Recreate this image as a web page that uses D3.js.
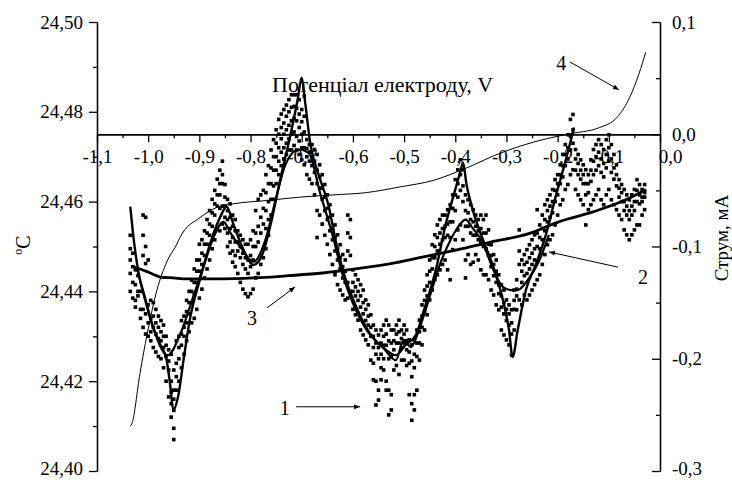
<!DOCTYPE html>
<html lang="uk">
<head>
<meta charset="UTF-8">
<title>Температура і струм</title>
<script src="https://d3js.org/d3.v7.min.js"></script>
<style>
  body { margin: 0; background: #fff; }
  svg { display: block; }
  svg text { font-family: "Liberation Serif", "Times New Roman", "DejaVu Serif", serif; fill: #000; }
  .axis path, .axis line { stroke: #000; stroke-width: 1.3; }
</style>
</head>
<body>
<svg width="732" height="480" font-family="Liberation Serif"></svg>
<script>
// ---- data ----
// ticks
const tempTicks = [24.40, 24.42, 24.44, 24.46, 24.48, 24.50];
const tempMinor = [24.41, 24.43, 24.45, 24.47, 24.49];
const curTicks = [-0.3, -0.2, -0.1, 0.0, 0.1];
const curMinor = [-0.25, -0.15, -0.05, 0.05];
const potTicks = [-1.1, -1.0, -0.9, -0.8, -0.7, -0.6, -0.5, -0.4, -0.3, -0.2, -0.1, 0.0];
const potMinor = [-1.05, -0.95, -0.85, -0.75, -0.65, -0.55, -0.45, -0.35, -0.25, -0.15, -0.05];

// curve 1: measured temperature, one row per potential: [V, T, T, ...]
const tempPoints = [
  [-1.035, 24.4525, 24.4495, 24.4470, 24.4440, 24.4400],
  [-1.030, 24.4485, 24.4455, 24.4420, 24.4385],
  [-1.025, 24.4448, 24.4415, 24.4380, 24.4365],
  [-1.020, 24.4435, 24.4400, 24.4390],
  [-1.015, 24.4400, 24.4360, 24.4340],
  [-1.010, 24.4570, 24.4525, 24.4480, 24.4360, 24.4320],
  [-1.005, 24.4565, 24.4500, 24.4462, 24.4350, 24.4305],
  [-1.000, 24.4470, 24.4370, 24.4330, 24.4300],
  [-0.995, 24.4380, 24.4340, 24.4310, 24.4290],
  [-0.990, 24.4375, 24.4345, 24.4320, 24.4275],
  [-0.985, 24.4360, 24.4330, 24.4305, 24.4265],
  [-0.980, 24.4345, 24.4320, 24.4295, 24.4255],
  [-0.975, 24.4335, 24.4310, 24.4290, 24.4250],
  [-0.970, 24.4325, 24.4300, 24.4275, 24.4230],
  [-0.965, 24.4300, 24.4280, 24.4255, 24.4200],
  [-0.960, 24.4270, 24.4245, 24.4225, 24.4165],
  [-0.955, 24.4260, 24.4200, 24.4175, 24.4150, 24.4120],
  [-0.950, 24.4225, 24.4180, 24.4160, 24.4135, 24.4095, 24.4070],
  [-0.945, 24.4290, 24.4240, 24.4210, 24.4180],
  [-0.940, 24.4300, 24.4275, 24.4250, 24.4200],
  [-0.935, 24.4335, 24.4305, 24.4280, 24.4230],
  [-0.930, 24.4345, 24.4320, 24.4300, 24.4260],
  [-0.925, 24.4380, 24.4355, 24.4330, 24.4290],
  [-0.920, 24.4400, 24.4375, 24.4350, 24.4310],
  [-0.915, 24.4425, 24.4400, 24.4375, 24.4330],
  [-0.910, 24.4450, 24.4420, 24.4395, 24.4340],
  [-0.905, 24.4470, 24.4445, 24.4420, 24.4360],
  [-0.900, 24.4505, 24.4470, 24.4445, 24.4385],
  [-0.895, 24.4515, 24.4485, 24.4460, 24.4405],
  [-0.890, 24.4535, 24.4505, 24.4480, 24.4430],
  [-0.885, 24.4560, 24.4530, 24.4505, 24.4450],
  [-0.880, 24.4580, 24.4550, 24.4525, 24.4470],
  [-0.875, 24.4605, 24.4575, 24.4545, 24.4495],
  [-0.870, 24.4625, 24.4595, 24.4570, 24.4515],
  [-0.865, 24.4650, 24.4615, 24.4590, 24.4540],
  [-0.860, 24.4670, 24.4640, 24.4615, 24.4585, 24.4535],
  [-0.855, 24.4690, 24.4660, 24.4640, 24.4590, 24.4550],
  [-0.850, 24.4638, 24.4610, 24.4590, 24.4565, 24.4540],
  [-0.845, 24.4605, 24.4580, 24.4560, 24.4530, 24.4500],
  [-0.840, 24.4595, 24.4565, 24.4540, 24.4510, 24.4485],
  [-0.835, 24.4570, 24.4545, 24.4520, 24.4490, 24.4465],
  [-0.830, 24.4560, 24.4535, 24.4510, 24.4480, 24.4455],
  [-0.825, 24.4535, 24.4510, 24.4490, 24.4440],
  [-0.820, 24.4525, 24.4500, 24.4475, 24.4420],
  [-0.815, 24.4515, 24.4485, 24.4460, 24.4405],
  [-0.810, 24.4505, 24.4475, 24.4450, 24.4395],
  [-0.805, 24.4505, 24.4470, 24.4440, 24.4388],
  [-0.800, 24.4515, 24.4480, 24.4455, 24.4395],
  [-0.795, 24.4535, 24.4500, 24.4470, 24.4405],
  [-0.790, 24.4580, 24.4530, 24.4500, 24.4430],
  [-0.785, 24.4605, 24.4545, 24.4510, 24.4440],
  [-0.780, 24.4615, 24.4565, 24.4530, 24.4460],
  [-0.775, 24.4625, 24.4585, 24.4550, 24.4475],
  [-0.770, 24.4660, 24.4620, 24.4580, 24.4540, 24.4495],
  [-0.765, 24.4680, 24.4640, 24.4600, 24.4560, 24.4525],
  [-0.760, 24.4715, 24.4675, 24.4640, 24.4605, 24.4570],
  [-0.755, 24.4738, 24.4700, 24.4670, 24.4635, 24.4605],
  [-0.750, 24.4760, 24.4730, 24.4700, 24.4670, 24.4640],
  [-0.745, 24.4783, 24.4750, 24.4720, 24.4690, 24.4660],
  [-0.740, 24.4795, 24.4765, 24.4740, 24.4710, 24.4680],
  [-0.735, 24.4805, 24.4775, 24.4750, 24.4720, 24.4695],
  [-0.730, 24.4815, 24.4790, 24.4760, 24.4730, 24.4705],
  [-0.725, 24.4827, 24.4800, 24.4770, 24.4740, 24.4715],
  [-0.720, 24.4838, 24.4810, 24.4780, 24.4750, 24.4715],
  [-0.715, 24.4838, 24.4812, 24.4785, 24.4755, 24.4725],
  [-0.710, 24.4838, 24.4808, 24.4780, 24.4745, 24.4715],
  [-0.705, 24.4827, 24.4795, 24.4765, 24.4735, 24.4705],
  [-0.700, 24.4805, 24.4778, 24.4750, 24.4720, 24.4693],
  [-0.695, 24.4835, 24.4790, 24.4755, 24.4720, 24.4682],
  [-0.690, 24.4738, 24.4718, 24.4700, 24.4660],
  [-0.685, 24.4727, 24.4710, 24.4690, 24.4650],
  [-0.680, 24.4727, 24.4700, 24.4680, 24.4640],
  [-0.675, 24.4716, 24.4690, 24.4665, 24.4615],
  [-0.670, 24.4705, 24.4670, 24.4640, 24.4580, 24.4520],
  [-0.665, 24.4682, 24.4655, 24.4630, 24.4570],
  [-0.660, 24.4660, 24.4630, 24.4605, 24.4550],
  [-0.655, 24.4638, 24.4610, 24.4580, 24.4525],
  [-0.650, 24.4615, 24.4585, 24.4560, 24.4505],
  [-0.645, 24.4593, 24.4565, 24.4535, 24.4482],
  [-0.640, 24.4570, 24.4540, 24.4515, 24.4460],
  [-0.635, 24.4548, 24.4520, 24.4490, 24.4437],
  [-0.630, 24.4526, 24.4495, 24.4470, 24.4415],
  [-0.625, 24.4504, 24.4475, 24.4450, 24.4403],
  [-0.620, 24.4482, 24.4455, 24.4430, 24.4392],
  [-0.615, 24.4470, 24.4445, 24.4420, 24.4381],
  [-0.610, 24.4570, 24.4530, 24.4490, 24.4420, 24.4385],
  [-0.605, 24.4560, 24.4520, 24.4480, 24.4400],
  [-0.600, 24.4448, 24.4420, 24.4400, 24.4360],
  [-0.595, 24.4437, 24.4410, 24.4390, 24.4348],
  [-0.590, 24.4426, 24.4400, 24.4380, 24.4336],
  [-0.585, 24.4415, 24.4390, 24.4365, 24.4314],
  [-0.580, 24.4403, 24.4375, 24.4350, 24.4303],
  [-0.575, 24.4381, 24.4360, 24.4335, 24.4292],
  [-0.570, 24.4370, 24.4345, 24.4325, 24.4281],
  [-0.565, 24.4348, 24.4320, 24.4300, 24.4247],
  [-0.560, 24.4325, 24.4300, 24.4275, 24.4240, 24.4203],
  [-0.555, 24.4314, 24.4285, 24.4260, 24.4200, 24.4147],
  [-0.550, 24.4303, 24.4275, 24.4250, 24.4180, 24.4158],
  [-0.545, 24.4314, 24.4285, 24.4260, 24.4230, 24.4203],
  [-0.540, 24.4325, 24.4300, 24.4280, 24.4250, 24.4225],
  [-0.535, 24.4336, 24.4305, 24.4280, 24.4200, 24.4180],
  [-0.530, 24.4325, 24.4290, 24.4250, 24.4180, 24.4125],
  [-0.525, 24.4314, 24.4285, 24.4255, 24.4170, 24.4136],
  [-0.520, 24.4314, 24.4290, 24.4270, 24.4225],
  [-0.515, 24.4325, 24.4305, 24.4285, 24.4235],
  [-0.510, 24.4336, 24.4310, 24.4285, 24.4215],
  [-0.505, 24.4314, 24.4295, 24.4275, 24.4247],
  [-0.500, 24.4325, 24.4305, 24.4285, 24.4247],
  [-0.495, 24.4314, 24.4290, 24.4270, 24.4235],
  [-0.490, 24.4292, 24.4265, 24.4240, 24.4170],
  [-0.485, 24.4281, 24.4245, 24.4210, 24.4150, 24.4113],
  [-0.480, 24.4292, 24.4260, 24.4230, 24.4170, 24.4136],
  [-0.475, 24.4314, 24.4285, 24.4255, 24.4180],
  [-0.470, 24.4336, 24.4310, 24.4285, 24.4247],
  [-0.465, 24.4370, 24.4345, 24.4320, 24.4281],
  [-0.460, 24.4403, 24.4380, 24.4355, 24.4314],
  [-0.455, 24.4437, 24.4412, 24.4390, 24.4348],
  [-0.450, 24.4470, 24.4445, 24.4420, 24.4381],
  [-0.445, 24.4504, 24.4475, 24.4450, 24.4403],
  [-0.440, 24.4526, 24.4500, 24.4475, 24.4426],
  [-0.435, 24.4548, 24.4520, 24.4490, 24.4437],
  [-0.430, 24.4560, 24.4530, 24.4505, 24.4448],
  [-0.425, 24.4570, 24.4540, 24.4515, 24.4460],
  [-0.420, 24.4570, 24.4545, 24.4520, 24.4470],
  [-0.415, 24.4582, 24.4550, 24.4525, 24.4448],
  [-0.410, 24.4593, 24.4555, 24.4520, 24.4426],
  [-0.405, 24.4615, 24.4585, 24.4555, 24.4493],
  [-0.400, 24.4649, 24.4615, 24.4580, 24.4515],
  [-0.395, 24.4671, 24.4640, 24.4610, 24.4537],
  [-0.390, 24.4693, 24.4660, 24.4625, 24.4548],
  [-0.385, 24.4671, 24.4635, 24.4600, 24.4515],
  [-0.380, 24.4615, 24.4580, 24.4545, 24.4470, 24.4430],
  [-0.375, 24.4604, 24.4575, 24.4545, 24.4482],
  [-0.370, 24.4593, 24.4560, 24.4530, 24.4460],
  [-0.365, 24.4582, 24.4555, 24.4525, 24.4465],
  [-0.360, 24.4570, 24.4545, 24.4525, 24.4482],
  [-0.355, 24.4560, 24.4535, 24.4515, 24.4470],
  [-0.350, 24.4570, 24.4540, 24.4510, 24.4448],
  [-0.345, 24.4560, 24.4530, 24.4500, 24.4437],
  [-0.340, 24.4570, 24.4530, 24.4495, 24.4437],
  [-0.335, 24.4537, 24.4505, 24.4480, 24.4426],
  [-0.330, 24.4504, 24.4480, 24.4455, 24.4403],
  [-0.325, 24.4482, 24.4460, 24.4435, 24.4392],
  [-0.320, 24.4470, 24.4445, 24.4420, 24.4370],
  [-0.315, 24.4437, 24.4415, 24.4395, 24.4359],
  [-0.310, 24.4415, 24.4390, 24.4365, 24.4314],
  [-0.305, 24.4403, 24.4375, 24.4350, 24.4303],
  [-0.300, 24.4381, 24.4360, 24.4335, 24.4292],
  [-0.295, 24.4370, 24.4350, 24.4325, 24.4281],
  [-0.290, 24.4359, 24.4330, 24.4305, 24.4258],
  [-0.285, 24.4403, 24.4380, 24.4360, 24.4314],
  [-0.280, 24.4426, 24.4405, 24.4390, 24.4359],
  [-0.275, 24.4537, 24.4490, 24.4460, 24.4381],
  [-0.270, 24.4470, 24.4445, 24.4420, 24.4370],
  [-0.265, 24.4482, 24.4460, 24.4435, 24.4392],
  [-0.260, 24.4493, 24.4465, 24.4440, 24.4381],
  [-0.255, 24.4504, 24.4475, 24.4450, 24.4392],
  [-0.250, 24.4515, 24.4485, 24.4460, 24.4403],
  [-0.245, 24.4526, 24.4495, 24.4470, 24.4415],
  [-0.240, 24.4582, 24.4530, 24.4500, 24.4426],
  [-0.235, 24.4548, 24.4520, 24.4495, 24.4437],
  [-0.230, 24.4570, 24.4540, 24.4515, 24.4460],
  [-0.225, 24.4593, 24.4560, 24.4535, 24.4482],
  [-0.220, 24.4604, 24.4580, 24.4555, 24.4504],
  [-0.215, 24.4615, 24.4590, 24.4565, 24.4515],
  [-0.210, 24.4627, 24.4600, 24.4575, 24.4526],
  [-0.205, 24.4649, 24.4625, 24.4600, 24.4548],
  [-0.200, 24.4660, 24.4640, 24.4615, 24.4570],
  [-0.195, 24.4682, 24.4660, 24.4640, 24.4593],
  [-0.190, 24.4705, 24.4680, 24.4655, 24.4604],
  [-0.185, 24.4727, 24.4705, 24.4680, 24.4627],
  [-0.180, 24.4749, 24.4720, 24.4695, 24.4638],
  [-0.175, 24.4783, 24.4745, 24.4715, 24.4660],
  [-0.170, 24.4794, 24.4760, 24.4730, 24.4671],
  [-0.165, 24.4716, 24.4695, 24.4670, 24.4627],
  [-0.160, 24.4705, 24.4685, 24.4660, 24.4615],
  [-0.155, 24.4693, 24.4670, 24.4650, 24.4604],
  [-0.150, 24.4682, 24.4660, 24.4640, 24.4593],
  [-0.145, 24.4671, 24.4640, 24.4615, 24.4548],
  [-0.140, 24.4660, 24.4640, 24.4620, 24.4582],
  [-0.135, 24.4693, 24.4670, 24.4645, 24.4593],
  [-0.130, 24.4716, 24.4690, 24.4660, 24.4604],
  [-0.125, 24.4727, 24.4700, 24.4670, 24.4615],
  [-0.120, 24.4738, 24.4710, 24.4680, 24.4627],
  [-0.115, 24.4727, 24.4695, 24.4665, 24.4604],
  [-0.110, 24.4716, 24.4685, 24.4655, 24.4593],
  [-0.105, 24.4738, 24.4705, 24.4675, 24.4615],
  [-0.100, 24.4749, 24.4720, 24.4690, 24.4627],
  [-0.095, 24.4727, 24.4695, 24.4665, 24.4604],
  [-0.090, 24.4705, 24.4675, 24.4650, 24.4593],
  [-0.085, 24.4682, 24.4660, 24.4635, 24.4582],
  [-0.080, 24.4649, 24.4630, 24.4610, 24.4570],
  [-0.075, 24.4638, 24.4620, 24.4600, 24.4560],
  [-0.070, 24.4627, 24.4600, 24.4580, 24.4537],
  [-0.065, 24.4615, 24.4590, 24.4570, 24.4526],
  [-0.060, 24.4604, 24.4580, 24.4560, 24.4515],
  [-0.055, 24.4615, 24.4590, 24.4570, 24.4526],
  [-0.050, 24.4627, 24.4600, 24.4580, 24.4537],
  [-0.045, 24.4649, 24.4625, 24.4600, 24.4548],
  [-0.040, 24.4638, 24.4615, 24.4595, 24.4548],
  [-0.035, 24.4627, 24.4610, 24.4600, 24.4570],
  [-0.030, 24.4638, 24.4620, 24.4610, 24.4582]
];

// curve 2: polynomial fit of temperature [V, T]
const fitCurve = [
  [-1.029, 24.4455], [-1.002, 24.4444], [-0.976, 24.4432], [-0.951, 24.4430],
  [-0.923, 24.4428], [-0.857, 24.4428], [-0.794, 24.4430], [-0.726, 24.4435],
  [-0.659, 24.4441], [-0.595, 24.4450], [-0.516, 24.4464], [-0.462, 24.4477],
  [-0.395, 24.4493], [-0.331, 24.4510], [-0.258, 24.4528], [-0.198, 24.4555],
  [-0.131, 24.4577], [-0.067, 24.4604], [-0.027, 24.4627]
];

// curve 3: smoothed temperature, two passes [V, T]
const smoothA = [
  [-1.035, 24.4589], [-1.027, 24.4504], [-1.019, 24.4443], [-1.005, 24.4381],
  [-0.992, 24.4325], [-0.976, 24.4281], [-0.964, 24.4247], [-0.957, 24.4191],
  [-0.951, 24.4136], [-0.941, 24.4169], [-0.931, 24.4247], [-0.918, 24.4341],
  [-0.898, 24.4430], [-0.878, 24.4510], [-0.857, 24.4571], [-0.847, 24.4589],
  [-0.833, 24.4548], [-0.814, 24.4493], [-0.794, 24.4459], [-0.777, 24.4482],
  [-0.761, 24.4548], [-0.742, 24.4649], [-0.722, 24.4749], [-0.708, 24.4827],
  [-0.700, 24.4876], [-0.694, 24.4827], [-0.683, 24.4727], [-0.667, 24.4660],
  [-0.648, 24.4593], [-0.632, 24.4504], [-0.614, 24.4426], [-0.595, 24.4370],
  [-0.569, 24.4310], [-0.542, 24.4276], [-0.516, 24.4258], [-0.497, 24.4281],
  [-0.477, 24.4303], [-0.458, 24.4370], [-0.438, 24.4448], [-0.419, 24.4548],
  [-0.403, 24.4615], [-0.389, 24.4671], [-0.385, 24.4687], [-0.378, 24.4638],
  [-0.366, 24.4582], [-0.346, 24.4515], [-0.327, 24.4459], [-0.307, 24.4381],
  [-0.295, 24.4314], [-0.288, 24.4254], [-0.278, 24.4314], [-0.262, 24.4403],
  [-0.243, 24.4459], [-0.223, 24.4526], [-0.203, 24.4615], [-0.184, 24.4693],
  [-0.168, 24.4765]
];
const smoothB = [
  [-1.022, 24.4452], [-0.996, 24.4341], [-0.962, 24.4258], [-0.938, 24.4303],
  [-0.912, 24.4388], [-0.892, 24.4455], [-0.872, 24.4521], [-0.853, 24.4555],
  [-0.839, 24.4530], [-0.820, 24.4499], [-0.794, 24.4466], [-0.771, 24.4515],
  [-0.751, 24.4604], [-0.732, 24.4682], [-0.706, 24.4716], [-0.687, 24.4709],
  [-0.663, 24.4615], [-0.640, 24.4526], [-0.620, 24.4437], [-0.601, 24.4376],
  [-0.569, 24.4307], [-0.542, 24.4276], [-0.516, 24.4247], [-0.501, 24.4292],
  [-0.487, 24.4276], [-0.473, 24.4307], [-0.458, 24.4359], [-0.428, 24.4466],
  [-0.409, 24.4515], [-0.393, 24.4546], [-0.380, 24.4560], [-0.366, 24.4541],
  [-0.346, 24.4508], [-0.327, 24.4452], [-0.307, 24.4410], [-0.291, 24.4403],
  [-0.278, 24.4403], [-0.258, 24.4426], [-0.237, 24.4466], [-0.217, 24.4526]
];

// curve 4: current, mA [V, I]
const currentCurve = [
  [-1.035, -0.260], [-1.032, -0.258], [-1.016, -0.213], [-1.002, -0.178],
  [-0.983, -0.139], [-0.963, -0.113], [-0.943, -0.097], [-0.938, -0.092],
  [-0.898, -0.074], [-0.865, -0.065], [-0.834, -0.062], [-0.767, -0.059],
  [-0.703, -0.056], [-0.638, -0.054], [-0.574, -0.052], [-0.509, -0.047],
  [-0.442, -0.041], [-0.378, -0.030], [-0.313, -0.017], [-0.247, -0.007],
  [-0.182, 0.000], [-0.118, 0.006], [-0.084, 0.015], [-0.059, 0.033],
  [-0.041, 0.054], [-0.028, 0.073]
];

// curve labels: [label, labelV, labelT, arrowFromV, arrowFromT, arrowToV, arrowToT]
const curveLabels = [
  ["1", -0.733, 24.4140, -0.711, 24.4143, -0.586, 24.4143],
  ["2", -0.033, 24.4432, -0.082, 24.4454, -0.217, 24.4488],
  ["3", -0.797, 24.4341, -0.768, 24.4363, -0.713, 24.4410],
  ["4", -0.193, 24.4909, -0.176, 24.4911, -0.080, 24.4849]
];

// ---- scales ----
const svg = d3.select("svg");
const x = d3.scaleLinear().domain([-1.1, 0]).range([97, 660]);
const yT = d3.scaleLinear().domain([24.40, 24.50]).range([471, 22]);
const yI = d3.scaleLinear().domain([-0.3, 0.1]).range([471, 22]);

const loc = d3.formatLocale({decimal: ",", thousands: " ", grouping: [3], currency: ["", ""], minus: "-"});
const f2 = loc.format(".2f");
const f1 = loc.format(".1f");
const serif = "Liberation Serif";

// ---- axes ----
// left (temperature)
svg.append("g").attr("class", "axis").attr("transform", "translate(97,0)")
   .call(d3.axisLeft(yT).tickValues(tempMinor).tickSize(4).tickSizeOuter(0).tickFormat(""));
svg.append("g").attr("class", "axis").attr("transform", "translate(97,0)")
   .attr("font-family", serif)
   .call(d3.axisLeft(yT).tickValues(tempTicks).tickSize(8).tickSizeOuter(0).tickPadding(6).tickFormat(f2))
   .selectAll("text").style("font-size", "19px")
   .attr("dy", d => d === 24.40 ? "0.18em" : "0.32em");

// right (current), ticks point inward
svg.append("g").attr("class", "axis").attr("transform", "translate(660,0)")
   .call(d3.axisRight(yI).tickValues(curMinor).tickSize(-4).tickSizeOuter(0).tickFormat(""));
svg.append("g").attr("class", "axis").attr("transform", "translate(660,0)")
   .attr("font-family", serif)
   .call(d3.axisRight(yI).tickValues(curTicks).tickSize(-8).tickSizeOuter(0).tickPadding(12).tickFormat(f1))
   .selectAll("text").style("font-size", "19px")
   .attr("dy", d => d === -0.3 ? "0.18em" : "0.32em");

// potential axis along zero current
svg.append("g").attr("class", "axis").attr("transform", `translate(0,${yI(0)})`)
   .call(d3.axisBottom(x).tickValues(potMinor).tickSize(4).tickSizeOuter(0).tickFormat(""));
const potAxis = svg.append("g").attr("class", "axis").attr("transform", `translate(0,${yI(0)})`)
   .attr("font-family", serif)
   .call(d3.axisBottom(x).tickValues(potTicks).tickSize(8).tickSizeOuter(0).tickPadding(7).tickFormat(f1));
potAxis.selectAll("text").style("font-size", "19px")
   .attr("dx", d => d === 0 ? 10 : 0);

// axis titles
svg.append("text")
   .attr("x", 272).attr("y", 92)
   .attr("font-family", serif)
   .style("font-size", "22px")
   .text("Потенціал електроду, V");

const tl = svg.append("text")
   .attr("transform", "translate(30,245) rotate(-90)")
   .attr("text-anchor", "middle")
   .attr("font-family", serif)
   .style("font-size", "20px");
tl.append("tspan").attr("font-size", "12px").attr("dy", "-8").text("o");
tl.append("tspan").attr("dy", "8").text("C");

svg.append("text")
   .attr("transform", "translate(728,238) rotate(-90)")
   .attr("text-anchor", "middle")
   .attr("font-family", serif)
   .style("font-size", "19px")
   .text("Струм, мА");

// ---- curves ----
// curve 1: points
const pts = tempPoints.flatMap(r => r.slice(1).map(t => [r[0], t]));
svg.append("g").selectAll("rect").data(pts).enter().append("rect")
   .attr("x", d => x(d[0]) - 1.8)
   .attr("y", d => yT(d[1]) - 1.8)
   .attr("width", 3.6).attr("height", 3.6)
   .attr("fill", "#000");

const lineT = d3.line().x(d => x(d[0])).y(d => yT(d[1])).curve(d3.curveMonotoneX);
const lineI = d3.line().x(d => x(d[0])).y(d => yI(d[1])).curve(d3.curveMonotoneX);

svg.append("path").datum(smoothB).attr("d", lineT)
   .attr("fill", "none").attr("stroke", "#000").attr("stroke-width", 2.2);
svg.append("path").datum(smoothA).attr("d", lineT)
   .attr("fill", "none").attr("stroke", "#000").attr("stroke-width", 2.4);
svg.append("path").datum(fitCurve).attr("d", lineT)
   .attr("fill", "none").attr("stroke", "#000").attr("stroke-width", 2.8);
svg.append("path").datum(currentCurve).attr("d", lineI)
   .attr("fill", "none").attr("stroke", "#000").attr("stroke-width", 1);

// ---- labels with arrows ----
svg.append("defs").append("marker")
   .attr("id", "arrow").attr("viewBox", "0 0 10 10")
   .attr("refX", 10).attr("refY", 5)
   .attr("markerWidth", 9).attr("markerHeight", 6)
   .attr("markerUnits", "userSpaceOnUse")
   .attr("orient", "auto")
   .append("path").attr("d", "M0,1 L10,5 L0,9 Z").attr("fill", "#000");

const ann = svg.append("g").attr("font-family", serif);
ann.selectAll("line").data(curveLabels).enter().append("line")
   .attr("x1", d => x(d[3])).attr("y1", d => yT(d[4]))
   .attr("x2", d => x(d[5])).attr("y2", d => yT(d[6]))
   .attr("stroke", "#000").attr("stroke-width", 1)
   .attr("marker-end", "url(#arrow)");
ann.selectAll("text").data(curveLabels).enter().append("text")
   .attr("x", d => x(d[1])).attr("y", d => yT(d[2]))
   .attr("text-anchor", "middle").attr("dominant-baseline", "central")
   .style("font-size", "20px")
   .text(d => d[0]);
</script>
</body>
</html>
